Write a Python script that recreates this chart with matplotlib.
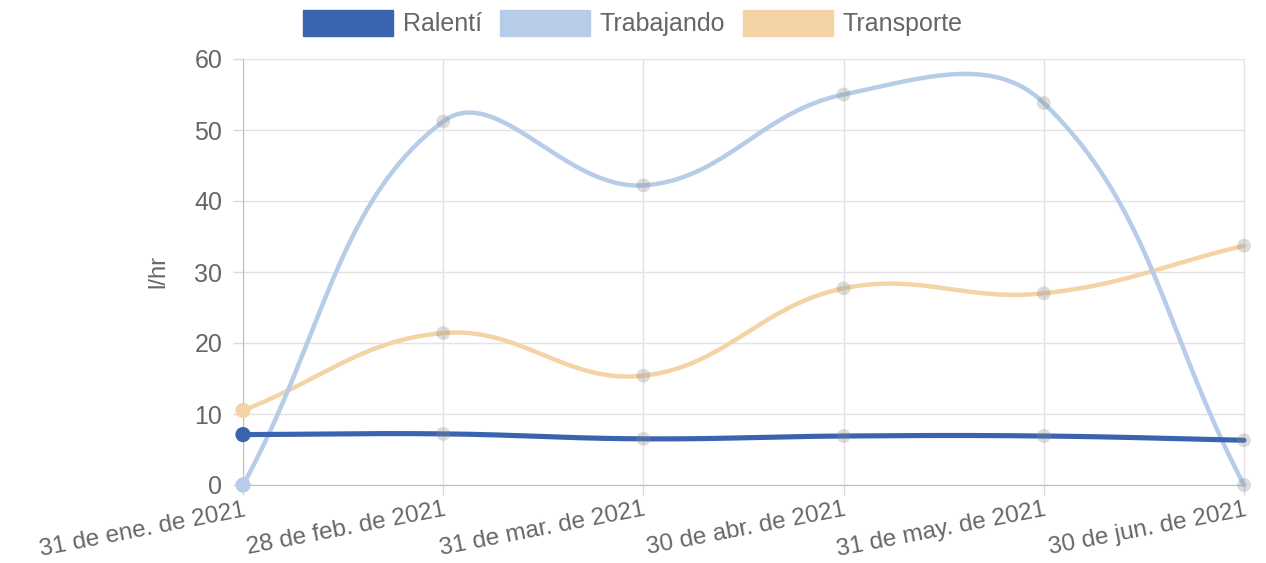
import matplotlib.pyplot as plt
import numpy as np
from matplotlib.patches import Patch

plt.rcParams["font.family"] = ["Liberation Sans", "DejaVu Sans"]

fechas = ["31 de ene. de 2021", "28 de feb. de 2021", "31 de mar. de 2021",
          "30 de abr. de 2021", "31 de may. de 2021", "30 de jun. de 2021"]
ralenti = [7.1, 7.2, 6.5, 6.9, 6.9, 6.3]
trabajando = [0.0, 51.2, 42.2, 55.0, 53.8, 0.0]
transporte = [10.5, 21.4, 15.4, 27.7, 27.0, 33.7]

C_RAL = "#3a63b0"
C_TRA = "#b6cce8"
C_TRN = "#f4d3a6"
TXT = "#666666"


def spline_path(ax, xs, ys, tension=0.4, n=40):
    """Chart.js-like cubic curve through the points, computed in pixel space."""
    pts = ax.transData.transform(np.column_stack([xs, ys]))
    k = len(pts)
    cps = []
    for i in range(k):
        prev = pts[i - 1] if i > 0 else pts[i]
        cur = pts[i]
        nxt = pts[i + 1] if i < k - 1 else pts[i]
        d01 = np.hypot(*(cur - prev))
        d12 = np.hypot(*(nxt - cur))
        tot = d01 + d12
        s01 = d01 / tot if tot else 0
        s12 = d12 / tot if tot else 0
        cps.append((cur - tension * s01 * (nxt - prev), cur + tension * s12 * (nxt - prev)))
    out = []
    t = np.linspace(0, 1, n)[:, None]
    for i in range(k - 1):
        p0, p3 = pts[i], pts[i + 1]
        p1, p2 = cps[i][1], cps[i + 1][0]
        seg = (1 - t) ** 3 * p0 + 3 * (1 - t) ** 2 * t * p1 + 3 * (1 - t) * t ** 2 * p2 + t ** 3 * p3
        out.append(seg)
    seg = np.vstack(out)
    return ax.transData.inverted().transform(seg)


fig = plt.figure(figsize=(12.66, 5.63), dpi=100)
ax = fig.add_axes([243 / 1266, 1 - 485 / 563, (1244 - 243) / 1266, (485 - 59) / 563])
x = np.arange(len(fechas))
ax.set_xlim(0, len(fechas) - 1)
ax.set_ylim(0, 60)
ax.set_yticks(range(0, 61, 10))
ax.set_xticks(x)
ax.set_xticklabels(fechas, rotation=11, ha="right", va="top", rotation_mode="anchor")
ax.tick_params(axis="both", colors="#d9d9d9", labelcolor=TXT, labelsize=18, length=7, width=1)
ax.tick_params(axis="y", pad=8)
ax.tick_params(axis="x", pad=3, labelsize=17.5)
ax.grid(True, color="#e3e3e3", linewidth=1)
ax.spines["top"].set_visible(False)
ax.spines["right"].set_color("#e3e3e3")
ax.spines["left"].set_color("#bdbdbd")
ax.spines["bottom"].set_color("#bdbdbd")
ax.set_ylabel("l/hr", color=TXT, fontsize=17, labelpad=18)
ax.set_axisbelow(True)

series = [(transporte, C_TRN, 3.2), (trabajando, C_TRA, 3.2), (ralenti, C_RAL, 3.7)]
for vals, col, lw in series:
    cur = spline_path(ax, x, vals)
    ax.plot(cur[:, 0], cur[:, 1], color=col, lw=lw, solid_capstyle="round", clip_on=False, zorder=3)
for vals, col, lw in series:
    ax.scatter(x[1:], vals[1:], s=100, color=(0.55, 0.55, 0.55, 0.3), edgecolors="none", zorder=4, clip_on=False)
    ax.scatter(x[:1], vals[:1], s=120, color=col, edgecolors="none", zorder=5, clip_on=False)

handles = [Patch(facecolor=C_RAL, edgecolor=C_RAL, label="Ralentí"),
           Patch(facecolor=C_TRA, edgecolor=C_TRA, label="Trabajando"),
           Patch(facecolor=C_TRN, edgecolor=C_TRN, label="Transporte")]
fig.legend(handles=handles, loc="upper center", bbox_to_anchor=(0.5, 1.0), ncol=3, frameon=False,
           fontsize=18, labelcolor=TXT, handlelength=3.6, handleheight=1.2, handletextpad=0.4,
           columnspacing=0.7, borderaxespad=0.2, borderpad=0.2)

fig.savefig("out.png", dpi=100)
